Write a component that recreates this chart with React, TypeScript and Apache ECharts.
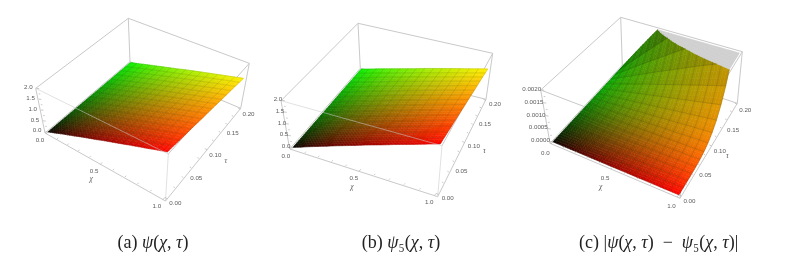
import React, { useEffect, useRef } from "react";
import * as echarts from "echarts";

// surface heights at the 16 x 16 mesh nodes, one row per tau (0 .. 0.2), one column per chi (0 .. 1)
const psiValues = [
  [0,.13,.27,.40,.53,.67,.80,.93,1.07,1.20,1.33,1.47,1.60,1.73,1.87,2.00],
  [0,.13,.26,.39,.52,.65,.78,.91,1.05,1.18,1.31,1.44,1.57,1.70,1.83,1.96],
  [0,.13,.25,.38,.51,.64,.76,.89,1.02,1.15,1.27,1.40,1.53,1.66,1.78,1.91],
  [0,.12,.25,.37,.50,.62,.75,.87,1.00,1.12,1.25,1.37,1.50,1.62,1.75,1.87],
  [0,.12,.24,.37,.49,.61,.73,.85,.98,1.10,1.22,1.34,1.46,1.59,1.71,1.83],
  [0,.12,.24,.36,.48,.60,.72,.84,.95,1.07,1.19,1.31,1.43,1.55,1.67,1.79],
  [0,.12,.23,.35,.46,.58,.70,.81,.93,1.04,1.16,1.28,1.39,1.51,1.62,1.74],
  [0,.11,.23,.34,.45,.57,.68,.79,.91,1.02,1.13,1.25,1.36,1.47,1.59,1.70],
  [0,.11,.22,.33,.44,.55,.66,.77,.89,1.00,1.11,1.22,1.33,1.44,1.55,1.66],
  [0,.11,.22,.32,.43,.54,.65,.76,.86,.97,1.08,1.19,1.30,1.40,1.51,1.62],
  [0,.10,.21,.31,.42,.52,.63,.73,.84,.94,1.05,1.15,1.26,1.36,1.47,1.57],
  [0,.10,.20,.31,.41,.51,.61,.71,.82,.92,1.02,1.12,1.22,1.33,1.43,1.53],
  [0,.10,.20,.30,.40,.50,.60,.70,.79,.89,.99,1.09,1.19,1.29,1.39,1.49],
  [0,.10,.19,.29,.39,.48,.58,.68,.77,.87,.97,1.06,1.16,1.26,1.35,1.45],
  [0,.09,.19,.28,.37,.47,.56,.65,.75,.84,.93,1.03,1.12,1.21,1.31,1.40],
  [0,.09,.18,.27,.36,.45,.54,.63,.73,.82,.91,1.00,1.09,1.18,1.27,1.36],
];
// psi and psi5 differ by at most 0.002, which cannot be read on a 0..2 axis
const psi5Values = psiValues;
// |psi - psi5| in units of 1e-4
const errorValues = [
  [0,0,0,0,0,0,0,0,0,0,0,0,0,0,0,0],
  [0,0,0,0,0,0,0,0,0,0,0,0,0,0,0,0],
  [0,0,0,0,0,0,0,0,.01,.01,.01,.01,.01,.01,.01,.01],
  [0,0,.01,.01,.01,.01,.02,.02,.02,.02,.03,.03,.03,.03,.04,.04],
  [0,.01,.02,.03,.04,.05,.06,.07,.09,.10,.11,.12,.13,.14,.15,.16],
  [0,.03,.06,.09,.11,.14,.17,.20,.23,.26,.29,.32,.34,.37,.40,.43],
  [0,.07,.13,.20,.26,.33,.39,.46,.52,.59,.65,.72,.78,.85,.91,.98],
  [0,.13,.26,.39,.52,.65,.78,.91,1.05,1.18,1.31,1.44,1.57,1.70,1.83,1.96],
  [0,.24,.48,.72,.96,1.2,1.44,1.68,1.92,2.16,2.4,2.64,2.88,3.12,3.36,3.6],
  [0,.41,.81,1.22,1.63,2.03,2.44,2.85,3.25,3.66,4.07,4.47,4.88,5.29,5.69,6.1],
  [0,.65,1.31,1.96,2.61,3.27,3.92,4.57,5.23,5.88,6.53,7.19,7.84,8.49,9.15,9.8],
  [0,1,2,3,4,5,6,7,8,9,10,11,12,13,14,15],
  [0,1.48,2.96,4.44,5.92,7.4,8.88,10.4,11.8,13.3,14.8,16.3,17.8,19.2,20.7,22.2],
  [0,2.12,4.24,6.36,8.48,10.6,12.7,14.8,17,19.1,21.2,23.3,25.4,27.6,29.7,31.8],
  [0,2.96,5.92,8.88,11.8,14.8,17.8,20.7,23.7,26.6,29.6,32.6,35.5,38.5,41.4,44.4],
  [0,4.04,8.08,12.1,16.2,20.2,24.2,28.3,32.3,36.4,40.4,44.4,48.5,52.5,56.6,60.6],
];

const chiTickLabels = ["0.0", "0.5", "1.0"];
const chiLabelPositions = [0, 0.5, 1];
const tauTickLabels = ["0.00", "0.05", "0.10", "0.15", "0.20"];
const tauLabelPositions = [0, 0.25, 0.5, 0.75, 1];
const zTickLabels = ["0.0", "0.5", "1.0", "1.5", "2.0"];
const errorTickLabels = ["0.0000", "0.0005", "0.0010", "0.0015", "0.0020"];
const zLabelPositions = [0, 0.25, 0.5, 0.75, 1];
const chiMinorTicks = [0, .1, .2, .3, .4, .5, .6, .7, .8, .9, 1];
const tauMinorTicks = [0, .1, .2, .3, .4, .5, .6, .7, .8, .9, 1];
const zMinorTicks = [0, .125, .25, .375, .5, .625, .75, .875, 1];
const captionA = "{n|(a) }{m|ψ}{n|(}{m|χ}{n|, }{m|τ}{n|)}";
const captionB = "{n|(b) }{m|ψ}{n|₅(}{m|χ}{n|, }{m|τ}{n|)}";
const captionC = "{n|(c) |}{m|ψ}{n|(}{m|χ}{n|, }{m|τ}{n|)  −  }{m|ψ}{n|₅(}{m|χ}{n|, }{m|τ}{n|)|}";

// layout of the three boxes: floor / top corners as [chi,tau] = 00,10,11,01, in page pixels
const panels = [
  {
    floor: [[45, 133], [165.5, 201], [240.7, 108.3], [130, 61.7]],
    top: [[35.7, 88.3], [168.3, 154], [249.3, 63.3], [128.3, 18.3]],
    values: psiValues, zMax: 2, zTicks: zTickLabels, shade: false, frontOver: true,
    chiOff: [-8, 8], tauOff: [10.5, 5.5], zOff: [-6.5, -2], chiTitle: [-11, 16], tauTitle: [21, 12],
    cap: { x: 153, y: 241.5, text: captionA },
  },
  {
    floor: [[289.7, 149], [437.7, 196.7], [486, 99.3], [360.3, 68.3]],
    top: [[281, 100.7], [442, 145.7], [492.7, 53.3], [358, 23.3]],
    values: psi5Values, zMax: 2, zTicks: zTickLabels, shade: false, frontOver: true,
    chiOff: [-7, 8.5], tauOff: [11.5, 4.5], zOff: [-2.5, -2], chiTitle: [-9, 17], tauTitle: [22, 9],
    cap: { x: 401, y: 241.5, text: captionB },
  },
  {
    floor: [[550, 143.3], [680, 198.3], [737.3, 103.3], [622.3, 65]],
    top: [[540.7, 90], [685, 145], [742.3, 51.7], [620.7, 17.3]],
    values: errorValues, zMax: 20, zTicks: errorTickLabels, shade: true, frontOver: false,
    chiOff: [-7.5, 11], tauOff: [10.5, 6], zOff: [-3, -2], chiTitle: [-12, 20], tauTitle: [18, 11],
    cap: { x: 658.7, y: 241.5, text: captionC },
  },
];

const PAD = 0.015;
const GRID = 15;
const SUB = 3;
const BOX = "#c9c9c9";
const LABEL = "#5c5c5c";

function homography(q: number[][]) {
  const [[x0, y0], [x1, y1], [x2, y2], [x3, y3]] = q;
  const sx = x0 - x1 + x2 - x3, sy = y0 - y1 + y2 - y3;
  const dx1 = x1 - x2, dx2 = x3 - x2, dy1 = y1 - y2, dy2 = y3 - y2;
  const den = dx1 * dy2 - dx2 * dy1;
  const g = (sx * dy2 - dx2 * sy) / den, h = (dx1 * sy - sx * dy1) / den;
  const a = x1 - x0 + g * x1, b = x3 - x0 + h * x3, d = y1 - y0 + g * y1, e = y3 - y0 + h * y3;
  return (u: number, v: number) => {
    const w = g * u + h * v + 1;
    return [(a * u + b * v + x0) / w, (d * u + e * v + y0) / w];
  };
}

function makeProjector(p: any) {
  const hf = homography(p.floor), ht = homography(p.top);
  const raw = (u: number, v: number, w: number) => {
    const f = hf(u, v), t = ht(u, v);
    return [f[0] + (t[0] - f[0]) * w, f[1] + (t[1] - f[1]) * w];
  };
  const s = (x: number) => PAD + (1 - 2 * PAD) * x;
  return { raw, data: (c: number, t: number, z: number) => raw(s(c), s(t), s(z)) };
}

type Pt = { c: number; t: number; z: number };

function clipZ(poly: Pt[], zc: number, below: boolean): Pt[] {
  const inside = (q: Pt) => (below ? q.z <= zc : q.z >= zc);
  const out: Pt[] = [];
  poly.forEach((a, i) => {
    const b = poly[(i + 1) % poly.length];
    if (inside(a)) out.push(a);
    if (inside(a) !== inside(b)) {
      const k = (zc - a.z) / (b.z - a.z);
      out.push({ c: a.c + (b.c - a.c) * k, t: a.t + (b.t - a.t) * k, z: zc });
    }
  });
  return out;
}

function surfaceSeries(p: any) {
  const proj = makeProjector(p);
  const cells: number[][] = [];
  for (let j = 0; j < GRID; j++) for (let i = 0; i < GRID; i++) cells.push([i, j]);
  return {
    type: "custom", coordinateSystem: "cartesian2d", silent: true, clip: false, progressive: 0,
    animation: false, data: cells,
    renderItem: (_: any, api: any) => {
      const i = api.value(0), j = api.value(1);
      const V = p.values;
      const z00 = V[j][i], z10 = V[j][i + 1], z01 = V[j + 1][i], z11 = V[j + 1][i + 1];
      const children: any[] = [];
      let f = 1;
      if (p.shade) {
        const zu = (((z10 + z11) - (z00 + z01)) / 2) * GRID / p.zMax;
        const zv = (((z01 + z11) - (z00 + z10)) / 2) * GRID / p.zMax;
        f = Math.max(0.45, 1 - 0.15 * zu - 0.02 * zv);
      }
      for (let b = 0; b < SUB; b++) for (let a = 0; a < SUB; a++) {
        const node = (x: number, y: number): Pt => {
          const ca = (a + x) / SUB, cb = (b + y) / SUB;
          return {
            c: (i + ca) / GRID, t: (j + cb) / GRID,
            z: z00 * (1 - ca) * (1 - cb) + z10 * ca * (1 - cb) + z01 * (1 - ca) * cb + z11 * ca * cb,
          };
        };
        const quad = [node(0, 0), node(1, 0), node(1, 1), node(0, 1)];
        const cc = (i + (a + 0.5) / SUB) / GRID, ct = (j + (b + 0.5) / SUB) / GRID;
        const col = `rgb(${Math.round(255 * Math.pow(cc, 0.78) * f)},${Math.round(240 * Math.pow(ct, 0.8) * f)},0)`;
        const low = clipZ(quad, p.zMax, true);
        const high = clipZ(quad, p.zMax, false);
        const draw = (poly: Pt[], fill: string) => {
          if (poly.length < 3) return;
          children.push({
            type: "polygon",
            shape: { points: poly.map((q) => api.coord(proj.data(q.c, q.t, Math.min(q.z, p.zMax) / p.zMax))) },
            style: { fill, stroke: fill, lineWidth: 0.5 },
          });
        };
        draw(low, col);
        draw(high, "#cfcfcf");
      }
      return { type: "group", children };
    },
  };
}

function meshSeries(p: any) {
  const proj = makeProjector(p);
  const lines: number[][] = [];
  for (let k = 0; k <= GRID; k++) { lines.push([0, k]); lines.push([1, k]); }
  return {
    type: "custom", coordinateSystem: "cartesian2d", silent: true, clip: false, animation: false,
    data: lines,
    renderItem: (_: any, api: any) => {
      const dir = api.value(0), k = api.value(1);
      const children: any[] = [];
      for (let n = 0; n < GRID; n++) {
        let a: Pt, b: Pt;
        if (dir === 0) {
          a = { c: n / GRID, t: k / GRID, z: p.values[k][n] };
          b = { c: (n + 1) / GRID, t: k / GRID, z: p.values[k][n + 1] };
        } else {
          a = { c: k / GRID, t: n / GRID, z: p.values[n][k] };
          b = { c: k / GRID, t: (n + 1) / GRID, z: p.values[n + 1][k] };
        }
        if (a.z >= p.zMax && b.z >= p.zMax) continue;
        const lerp = (q: Pt, r: Pt) => {
          const m = (p.zMax - q.z) / (r.z - q.z);
          return { c: q.c + (r.c - q.c) * m, t: q.t + (r.t - q.t) * m, z: p.zMax };
        };
        if (a.z > p.zMax) a = lerp(a, b);
        else if (b.z > p.zMax) b = lerp(a, b);
        const s = api.coord(proj.data(a.c, a.t, a.z / p.zMax));
        const e = api.coord(proj.data(b.c, b.t, b.z / p.zMax));
        children.push({
          type: "line", shape: { x1: s[0], y1: s[1], x2: e[0], y2: e[1] },
          style: { stroke: p.shade ? "rgba(30,30,0,0.24)" : "rgba(30,30,0,0.16)", lineWidth: 0.7 },
        });
      }
      return { type: "group", children };
    },
  };
}

// box edges: [a,b] with each end [u,v,w]
const backEdges = [
  [[0, 0, 1], [0, 1, 1]], [[0, 1, 1], [1, 1, 1]], [[1, 1, 1], [1, 0, 1]],
  [[0, 1, 1], [0, 1, 0]], [[0, 1, 0], [1, 1, 0]], [[0, 0, 0], [0, 1, 0]],
  [[0, 0, 0], [1, 0, 0]], [[1, 0, 0], [1, 1, 0]], [[0, 0, 0], [0, 0, 1]],
  [[1, 1, 0], [1, 1, 1]],
];
const frontEdges = [[[0, 0, 1], [1, 0, 1]], [[1, 0, 0], [1, 0, 1]]];

function edgeSeries(p: any, edges: number[][][], opacity: number) {
  const proj = makeProjector(p);
  return {
    type: "custom", coordinateSystem: "cartesian2d", silent: true, clip: false, animation: false,
    data: edges.map((_, i) => [i, 0]),
    renderItem: (_: any, api: any) => {
      const [a, b] = edges[api.value(0)];
      const s = api.coord(proj.raw(a[0], a[1], a[2]));
      const e = api.coord(proj.raw(b[0], b[1], b[2]));
      return {
        type: "line", shape: { x1: s[0], y1: s[1], x2: e[0], y2: e[1] },
        style: { stroke: BOX, lineWidth: 1, opacity },
      };
    },
  };
}

function tickSeries(p: any) {
  const proj = makeProjector(p);
  const all: { c: number; t: number; z: number; dx: number; dy: number }[] = [];
  chiMinorTicks.forEach((v) => {
    const m = chiLabelPositions.includes(v) ? 3 : 1.8;
    all.push({ c: v, t: 0, z: 0, dx: -0.6 * m, dy: 0.7 * m });
  });
  tauMinorTicks.forEach((v) => {
    const m = Math.abs(v * 4 - Math.round(v * 4)) < 1e-6 ? 3 : 1.8;
    all.push({ c: 1, t: v, z: 0, dx: 0.8 * m, dy: 0.4 * m });
  });
  zMinorTicks.forEach((v) => {
    const m = zLabelPositions.includes(v) ? 3 : 1.8;
    all.push({ c: 0, t: 0, z: v, dx: -0.9 * m, dy: -0.1 * m });
  });
  return {
    type: "custom", coordinateSystem: "cartesian2d", silent: true, clip: false, animation: false,
    data: all.map((_, i) => [i, 0]),
    renderItem: (_: any, api: any) => {
      const q = all[api.value(0)];
      const s = proj.data(q.c, q.t, q.z);
      const a = api.coord(s), b = api.coord([s[0] + q.dx, s[1] + q.dy]);
      return {
        type: "line", shape: { x1: a[0], y1: a[1], x2: b[0], y2: b[1] },
        style: { stroke: "#b5b5b5", lineWidth: 0.7 },
      };
    },
  };
}

function labelSeries(p: any) {
  const proj = makeProjector(p);
  const items: { s: string; at: number[]; off: number[]; align: string; font: string }[] = [];
  const tick = "6.2px 'Liberation Sans'";
  const title = "italic 7.5px 'Liberation Serif'";
  chiTickLabels.forEach((s, i) => items.push({ s, at: [chiLabelPositions[i], 0, 0], off: p.chiOff, align: "center", font: tick }));
  tauTickLabels.forEach((s, i) => items.push({ s, at: [1, tauLabelPositions[i], 0], off: p.tauOff, align: "center", font: tick }));
  p.zTicks.forEach((s: string, i: number) => items.push({ s, at: [0, 0, zLabelPositions[i]], off: p.zOff, align: "right", font: tick }));
  items.push({ s: "χ", at: [0.5, 0, 0], off: p.chiTitle, align: "center", font: title });
  items.push({ s: "τ", at: [1, 0.5, 0], off: p.tauTitle, align: "center", font: title });
  return {
    type: "custom", coordinateSystem: "cartesian2d", silent: true, clip: false, animation: false,
    data: items.map((_, i) => [i, 0]),
    renderItem: (_: any, api: any) => {
      const it = items[api.value(0)];
      const q = proj.data(it.at[0], it.at[1], it.at[2]);
      const c = api.coord([q[0] + it.off[0], q[1] + it.off[1]]);
      return {
        type: "text", x: c[0], y: c[1],
        style: { text: it.s, fill: LABEL, font: it.font, align: it.align, verticalAlign: "middle" },
      };
    },
  };
}

export default function App() {
  const ref = useRef<HTMLDivElement>(null);
  useEffect(() => {
    const chart = echarts.init(ref.current!, undefined, { renderer: "svg" });
    const series: any[] = [];
    panels.forEach((p) => {
      series.push(edgeSeries(p, backEdges, 1));
      if (!p.frontOver) series.push(edgeSeries(p, frontEdges, 1));
      series.push(surfaceSeries(p));
      series.push(meshSeries(p));
      if (p.frontOver) series.push(edgeSeries(p, frontEdges, 0.55));
      series.push(tickSeries(p));
      series.push(labelSeries(p));
    });
    chart.setOption({
      animation: false,
      backgroundColor: "#ffffff",
      grid: { left: 0, right: 0, top: 0, bottom: 0 },
      xAxis: { type: "value", min: 0, max: 785, show: false },
      yAxis: { type: "value", min: 0, max: 267, inverse: true, show: false },
      graphic: panels.map((p) => ({
        type: "text", x: p.cap.x, y: p.cap.y,
        style: {
          text: p.cap.text, align: "center", verticalAlign: "middle",
          rich: {
            n: { font: "18px 'Liberation Serif'", fill: "#222222" },
            m: { font: "italic 18px 'Liberation Serif'", fill: "#222222" },
          },
        },
      })),
      series,
    });
    return () => chart.dispose();
  }, []);
  return (
    <div
      ref={ref}
      style={{ position: "fixed", left: 0, top: 0, width: 785, height: 267, filter: "blur(0.35px)" }}
    />
  );
}
